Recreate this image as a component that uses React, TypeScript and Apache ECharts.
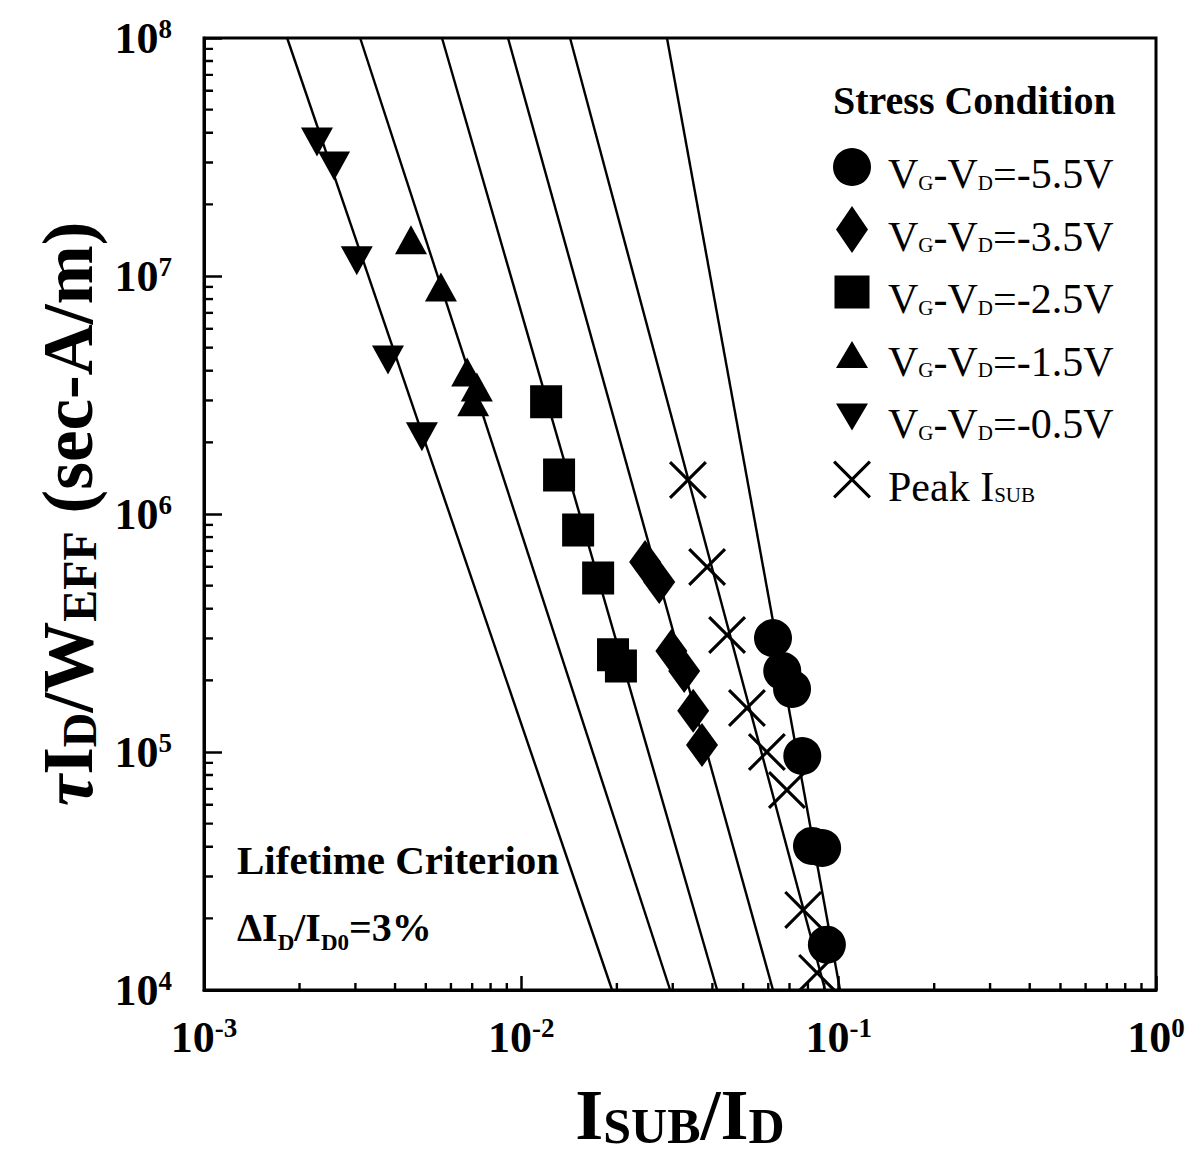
import React, { useEffect, useRef } from "react";
import * as echarts from "echarts";

const FONT = '"Liberation Serif", "Times New Roman", Times, serif';

// Axis extents (log scales)
const X_MIN = 1e-3;
const X_MAX = 1;
const Y_MIN = 1e4;
const Y_MAX = 1e8;

// Minor tick positions: 2..9 inside each decade
const DECADE_STEPS = [2, 3, 4, 5, 6, 7, 8, 9];
const X_DECADES = [-3, -2, -1];
const Y_DECADES = [4, 5, 6, 7];

// Lifetime fit lines, given by their Isub/Id at tau*Id/W = 1e8 and 1e4
const FIT_Y = [1e8, 1e4];
const FIT_TOP_X = [0.001828, 0.003105, 0.005623, 0.009078, 0.01424, 0.02877];
const FIT_BOTTOM_X = [0.01932, 0.02944, 0.0414, 0.06209, 0.09062, 0.101];

// Stress data: Isub/Id and tau*Id/Weff (sec-A/m)
const VG55_X = [0.0621, 0.0664, 0.0713, 0.0768, 0.0824, 0.0887, 0.0918];
const VG55_Y = [3.01e5, 2.19e5, 1.84e5, 9.62e4, 4.03e4, 3.95e4, 1.55e4];

const VG35_X = [0.02455, 0.0272, 0.0297, 0.0326, 0.0348, 0.0371];
const VG35_Y = [6.28e5, 5.18e5, 2.66e5, 2.19e5, 1.49e5, 1.07e5];

const VG25_X = [0.01197, 0.01315, 0.0151, 0.01746, 0.01945, 0.0206];
const VG25_Y = [2.96e6, 1.46e6, 8.57e5, 5.38e5, 2.56e5, 2.3e5];

const VG15_X = [0.00449, 0.00558, 0.00675, 0.00724, 0.00705];
const VG15_Y = [1.42e7, 9.0e6, 3.95e6, 3.42e6, 2.96e6];

const VG05_X = [0.00227, 0.00257, 0.00303, 0.0038, 0.00486];
const VG05_Y = [3.66e7, 2.9e7, 1.16e7, 4.44e6, 2.11e6];

const PEAK_X = [0.0335, 0.0385, 0.0445, 0.0514, 0.0594, 0.0687, 0.0773, 0.0855];
const PEAK_Y = [1.39e6, 5.99e5, 3.1e5, 1.53e5, 1.0e5, 6.92e4, 2.17e4, 1.18e4];

const SERIES_NAMES = [
  "VG-VD=-5.5V",
  "VG-VD=-3.5V",
  "VG-VD=-2.5V",
  "VG-VD=-1.5V",
  "VG-VD=-0.5V",
  "Peak ISUB",
];

// Chart layout
const WIDTH = 1192;
const HEIGHT = 1159;
const GRID = { left: 204, right: 36, top: 38, bottom: 169 };
const PX_PER_X_DECADE = (WIDTH - GRID.left - GRID.right) / Math.log10(X_MAX / X_MIN);
const PX_PER_Y_DECADE = (HEIGHT - GRID.top - GRID.bottom) / Math.log10(Y_MAX / Y_MIN);

// Marker shapes
const CROSS_PATH =
  "path://M0,2.2L2.2,0L19,16.8L35.8,0L38,2.2L21.2,19L38,35.8L35.8,38L19,21.2L2.2,38L0,35.8L16.8,19Z";
const TRI_UP_PATH = "path://M16,0L32,29L0,29Z";
const TRI_DOWN_PATH = "path://M0,0L32,0L16,29Z";

// Legend icons drawn in a 38x47 frame (tiny corner specks fix the frame size)
const SPECKS = "M0,0L0.01,0L0,0.01Z M38,47L37.99,47L38,46.99Z";
const LEGEND_ICONS = [
  "circle",
  `path://${SPECKS} M19,0L35,23.5L19,47L3,23.5Z`,
  `path://${SPECKS} M1.5,7H36.5V40H1.5Z`,
  `path://${SPECKS} M19,10L35,37L3,37Z`,
  `path://${SPECKS} M3,10L35,10L19,37Z`,
  `path://${SPECKS} M0,6.7L2.2,4.5L19,21.3L35.8,4.5L38,6.7L21.2,23.5L38,40.3L35.8,42.5L19,25.7L2.2,42.5L0,40.3L16.8,23.5Z`,
];

const pairs = (xs: number[], ys: number[]) => xs.map((x, i) => [x, ys[i]]);

const powerLabel = (v: number) => `{b|10}{s|${Math.round(Math.log10(v))}}`;

const tickRich = {
  b: { fontFamily: FONT, fontSize: 44, fontWeight: "bold", color: "#000", lineHeight: 46 },
  s: {
    fontFamily: FONT,
    fontSize: 27,
    fontWeight: "bold",
    color: "#000",
    verticalAlign: "top",
    lineHeight: 27,
  },
};

const legendLabel = (name: string) => {
  if (name.startsWith("Peak")) return "{t|Peak I}{u|SUB}";
  const value = name.split("=")[1];
  return `{t|V}{u|G}{t|-V}{u|D}{t|=${value}}`;
};

// A short inward minor tick drawn as a two-point segment on the log axes
const minorTick = (axis: "x" | "y", value: number, lengthPx: number) => {
  const data =
    axis === "x"
      ? [
          [value, Y_MIN],
          [value, Y_MIN * Math.pow(10, lengthPx / PX_PER_Y_DECADE)],
        ]
      : [
          [X_MIN, value],
          [X_MIN * Math.pow(10, lengthPx / PX_PER_X_DECADE), value],
        ];
  return {
    type: "line",
    data,
    symbol: "none",
    showSymbol: false,
    silent: true,
    lineStyle: { color: "#000", width: 2.4 },
    z: 4,
  };
};

function buildOption() {
  const xMinor = X_DECADES.flatMap((e) => DECADE_STEPS.map((k) => k * Math.pow(10, e)));
  const yMinor = Y_DECADES.flatMap((e) => DECADE_STEPS.map((k) => k * Math.pow(10, e)));

  const minorTicks = [
    ...xMinor.map((v) => minorTick("x", v, 7)),
    ...yMinor.map((v) => minorTick("y", v, 9)),
  ];

  const fitLines = FIT_TOP_X.map((x0, i) => ({
    type: "line",
    data: [
      [x0, FIT_Y[0]],
      [FIT_BOTTOM_X[i], FIT_Y[1]],
    ],
    symbol: "none",
    showSymbol: false,
    silent: true,
    lineStyle: { color: "#000", width: 2.4 },
    z: 1,
  }));

  const markerSeries = [
    { name: SERIES_NAMES[0], data: pairs(VG55_X, VG55_Y), symbol: "circle", symbolSize: 38 },
    { name: SERIES_NAMES[1], data: pairs(VG35_X, VG35_Y), symbol: "diamond", symbolSize: [32, 44] },
    { name: SERIES_NAMES[2], data: pairs(VG25_X, VG25_Y), symbol: "rect", symbolSize: [32, 33] },
    { name: SERIES_NAMES[3], data: pairs(VG15_X, VG15_Y), symbol: TRI_UP_PATH, symbolSize: [32, 29] },
    { name: SERIES_NAMES[4], data: pairs(VG05_X, VG05_Y), symbol: TRI_DOWN_PATH, symbolSize: [32, 29] },
    { name: SERIES_NAMES[5], data: pairs(PEAK_X, PEAK_Y), symbol: CROSS_PATH, symbolSize: 38 },
  ].map((s) => ({
    type: "scatter",
    ...s,
    itemStyle: { color: "#000", opacity: 1 },
    emphasis: { disabled: true },
    z: 3,
  }));

  return {
    animation: false,
    backgroundColor: "#fff",
    title: {
      text: "Stress Condition",
      left: 833,
      top: 80,
      padding: 0,
      textStyle: { fontFamily: FONT, fontSize: 40, fontWeight: "bold", color: "#000" },
    },
    legend: {
      orient: "vertical",
      left: 833,
      top: 148,
      padding: 0,
      itemWidth: 38,
      itemHeight: 47,
      itemGap: 11,
      selectedMode: false,
      data: SERIES_NAMES.map((name, i) => ({ name, icon: LEGEND_ICONS[i] })),
      formatter: legendLabel,
      textStyle: {
        padding: [14, 0, 0, 12],
        rich: {
          t: { fontFamily: FONT, fontSize: 42, color: "#000", lineHeight: 38 },
          u: { fontFamily: FONT, fontSize: 21, color: "#000", lineHeight: 10, verticalAlign: "bottom" },
        },
      },
    },
    grid: {
      ...GRID,
      show: true,
      borderColor: "#000",
      borderWidth: 3,
      backgroundColor: "transparent",
    },
    xAxis: {
      type: "log",
      logBase: 10,
      min: X_MIN,
      max: X_MAX,
      position: "bottom",
      name: "{i|I}{s|SUB}{i|/I}{s|D}",
      nameLocation: "middle",
      nameGap: 89,
      nameTextStyle: {
        rich: {
          i: { fontFamily: FONT, fontSize: 72, fontWeight: "bold", color: "#000", lineHeight: 72 },
          s: {
            fontFamily: FONT,
            fontSize: 50,
            fontWeight: "bold",
            color: "#000",
            verticalAlign: "bottom",
            lineHeight: 57,
          },
        },
      },
      axisLine: { show: true, lineStyle: { color: "#000", width: 3 } },
      axisTick: { show: true, inside: true, length: 14, lineStyle: { color: "#000", width: 2.5 } },
      axisLabel: { show: true, margin: 24, interval: 0, formatter: powerLabel, rich: tickRich },
      splitLine: { show: false },
    },
    yAxis: {
      type: "log",
      logBase: 10,
      min: Y_MIN,
      max: Y_MAX,
      position: "left",
      name: "{g|τ}{i|I}{s|D}{i|/W}{s|EFF}{i| (sec-A/m)}",
      nameLocation: "middle",
      nameRotate: 90,
      nameGap: 101,
      nameTextStyle: {
        rich: {
          g: {
            fontFamily: FONT,
            fontSize: 71,
            fontStyle: "italic",
            fontWeight: "bold",
            color: "#000",
            lineHeight: 71,
          },
          i: { fontFamily: FONT, fontSize: 71, fontWeight: "bold", color: "#000", lineHeight: 71 },
          s: {
            fontFamily: FONT,
            fontSize: 48,
            fontWeight: "bold",
            color: "#000",
            verticalAlign: "bottom",
            lineHeight: 55,
          },
        },
      },
      axisLine: { show: true, lineStyle: { color: "#000", width: 3 } },
      axisTick: { show: true, inside: true, length: 18, lineStyle: { color: "#000", width: 2.5 } },
      axisLabel: { show: true, margin: 32, interval: 0, formatter: powerLabel, rich: tickRich },
      splitLine: { show: false },
    },
    graphic: [
      {
        type: "text",
        x: 237,
        y: 860,
        style: {
          text: "Lifetime Criterion",
          font: `bold 41px ${FONT}`,
          fill: "#000",
          align: "left",
          verticalAlign: "middle",
        },
      },
      {
        type: "text",
        x: 237,
        y: 927,
        style: {
          text: "{m|ΔI}{s|D}{m|/I}{s|D0}{m|=3%}",
          fill: "#000",
          align: "left",
          verticalAlign: "middle",
          rich: {
            m: { fontFamily: FONT, fontSize: 40, fontWeight: "bold", fill: "#000", lineHeight: 54 },
            s: {
              fontFamily: FONT,
              fontSize: 23,
              fontWeight: "bold",
              fill: "#000",
              lineHeight: 23,
              verticalAlign: "bottom",
            },
          },
        },
      },
    ],
    series: [...fitLines, ...markerSeries, ...minorTicks],
  };
}

export default function App() {
  const ref = useRef<HTMLDivElement>(null);

  useEffect(() => {
    if (!ref.current) return;
    const chart = echarts.init(ref.current, null, { renderer: "svg" });
    chart.setOption(buildOption() as any);
    return () => chart.dispose();
  }, []);

  return (
    <div
      ref={ref}
      style={{ position: "absolute", left: 0, top: 0, width: WIDTH, height: HEIGHT, background: "#fff" }}
    />
  );
}
